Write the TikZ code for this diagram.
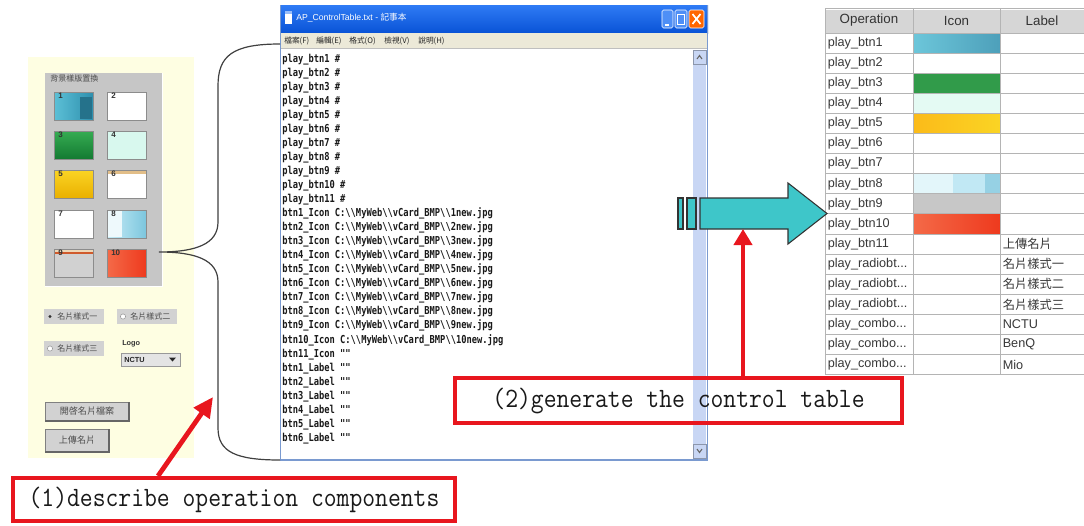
\documentclass[tikz,border=0pt]{standalone}
\usepackage{fontspec}
\setmainfont{Liberation Sans}
\newfontfamily\cjk{Noto Sans CJK TC}
\newfontfamily\npfont{DejaVu Sans Mono}
\usetikzlibrary{arrows.meta}
\definecolor{panelY}{HTML}{FEFEE2}
\definecolor{grpG}{HTML}{C6C6C6}
\definecolor{btnG}{HTML}{D2D2D2}
\definecolor{tealA}{HTML}{3EC6C9}
\definecolor{redC}{HTML}{E8161E}
\definecolor{tbA}{HTML}{2F7BF5}
\definecolor{tbB}{HTML}{0953D6}
\definecolor{menuC}{HTML}{ECE9D8}
\definecolor{scrC}{HTML}{C8D6F4}
\definecolor{frameB}{HTML}{7A9AD0}
\definecolor{gridC}{HTML}{B4B4B4}
\definecolor{hdrC}{HTML}{D6D6D6}
\definecolor{cA}{HTML}{5CC0D6}
\definecolor{cB}{HTML}{2E8FAE}
\definecolor{gA}{HTML}{36AC52}
\definecolor{gB}{HTML}{137A32}
\definecolor{mintC}{HTML}{D8F8EE}
\definecolor{yA}{HTML}{FAD424}
\definecolor{yB}{HTML}{EAB000}
\definecolor{tanC}{HTML}{E2BE88}
\definecolor{lbA}{HTML}{C8ECF6}
\definecolor{lbB}{HTML}{7CC6DE}
\definecolor{rA}{HTML}{F46A48}
\definecolor{rB}{HTML}{EE3A1E}
\definecolor{oraC}{HTML}{D05A2C}
\newcommand\npbs{\textbackslash}
\newcommand\tdots{...}
\begin{document}
\begin{tikzpicture}[x=0.75pt,y=-0.75pt,
  icon/.style={draw=black!45,line width=0.5pt},
  icnum/.style={anchor=west,inner sep=0,font=\fontsize{6}{6}\selectfont\bfseries,text=black!80},
  cjksmall/.style={inner sep=0,font=\cjk\fontsize{6}{6}\selectfont,text=black!70},
  wbtn/.style={draw=black!50,fill=btnG,line width=0.5pt},
  nptxt/.style={anchor=base west,inner sep=0,text=black!90,font=\npfont\bfseries\fontsize{8.2}{8}\selectfont},
  optxt/.style={anchor=west,inner sep=0,text=black!78,font=\fontsize{9.5}{10}\selectfont},
  lbtxt/.style={anchor=west,inner sep=0,text=black!78,font=\cjk\fontsize{9.2}{10}\selectfont},
  hdtxt/.style={inner sep=0,text=black!80,font=\fontsize{10}{10}\selectfont},
  redbox/.style={draw=redC,line width=3.2pt},
  redarrow/.style={draw=redC,line width=3.6pt},
  bigtxt/.style={inner sep=0,text=black!90,font=\ttfamily\fontsize{21}{21}\selectfont}
]
\useasboundingbox (0,0) rectangle (1084,525);
\fill[white] (0,0) rectangle (1084,525);

% ---------------- left panel ----------------
\fill[panelY] (28,57) rectangle (194,458);
\fill[grpG] (45,73) rectangle (162,286);
\draw[white,line width=0.6pt] (45,286) -- (162,286) -- (162,73);
\node[cjksmall,anchor=west] (grptitle) at (50,78) {背景樣版置換};

\tikzset{
 ic1/.style={left color=cA,right color=cB},
 ic2/.style={fill=white},
 ic3/.style={top color=gA,bottom color=gB},
 ic4/.style={fill=mintC},
 ic5/.style={top color=yA,bottom color=yB},
 ic6/.style={fill=white},
 ic7/.style={fill=white},
 ic8/.style={left color=lbA,right color=lbB},
 ic9/.style={fill=black!18},
 ic10/.style={left color=rA,right color=rB}}
\foreach \x/\y/\n in {54/92/1,107/92/2,54/131/3,107/131/4,54/170/5,107/170/6,54/210/7,107/210/8,54/249/9,107/249/10}{
  \draw[icon,ic\n] (\x,\y) rectangle ++(39,28);
}
\fill[cB!80!black] (80,97) rectangle (92,119);
\fill[tanC] (107.5,171) rectangle (145.5,174);
\fill[tanC!60] (54.5,250) rectangle (92.5,252);
\fill[oraC] (54.5,252) rectangle (92.5,254);
\fill[white!70!lbA] (107.5,211) rectangle (122,237);
\foreach \x/\y/\n in {54/92/1,107/92/2,54/131/3,107/131/4,54/170/5,107/170/6,54/210/7,107/210/8,54/249/9,107/249/10}{
  \node[icnum] at (\x+4,\y+4) {\n};
}

% radio buttons
\fill[btnG] (44,309) rectangle (104,324);
\fill[btnG] (117,309) rectangle (177,324);
\fill[btnG] (44,341) rectangle (104,356);
\fill[black!80] (50,316.5) circle (1.6);
\draw[black!40,fill=white] (123,316.5) circle (2.6);
\draw[black!40,fill=white] (50,348.5) circle (2.6);
\node[cjksmall,anchor=west] (r1) at (57,316.5) {名片樣式一};
\node[cjksmall,anchor=west] (r2) at (130,316.5) {名片樣式二};
\node[cjksmall,anchor=west] (r3) at (57,348.5) {名片樣式三};
\node[anchor=west,inner sep=0,font=\fontsize{5.5}{6}\selectfont\bfseries,text=black!80] (logo) at (122,344) {Logo};
\draw[black!40,fill=btnG!60!white] (121,353) rectangle (180,366);
\node[anchor=west,inner sep=0,font=\fontsize{5.5}{6}\selectfont\bfseries,text=black!85] (nctu) at (124,359.5) {NCTU};
\fill[black!85] (169,357.5) -- (176,357.5) -- (172.5,361.5) -- cycle;

% buttons
\draw[wbtn] (45,402) rectangle (129,421);
\draw[black!60,line width=0.8pt] (45,421) -- (129,421) -- (129,402);
\node[cjksmall,font=\cjk\fontsize{6.8}{7}\selectfont] (b1) at (87,411.5) {開啓名片檔案};
\draw[wbtn] (45,429) rectangle (109,452);
\draw[black!60,line width=0.8pt] (45,452) -- (109,452) -- (109,429);
\node[cjksmall,font=\cjk\fontsize{6.8}{7}\selectfont] (b2) at (77,440.5) {上傳名片};

% ---------------- notepad window ----------------
\shade[top color=tbA,bottom color=tbB] (280,5) rectangle (708,33);
\fill[white] (285,11) rectangle (292,24);
\fill[tbA!50] (285,11) rectangle (292,14);
\node[anchor=west,inner sep=0,text=white,font=\fontsize{6.5}{7}\selectfont] (title) at (296,18) {AP\_ControlTable.txt - {\cjk 記事本}};
\draw[white,fill=tbA!85!white,rounded corners=1.2pt,line width=0.4pt] (662,10) rectangle (673,28);
\fill[white] (664.5,23.5) rectangle (669,25.5);
\draw[white,fill=tbA!85!white,rounded corners=1.2pt,line width=0.4pt] (675,10) rectangle (687,28);
\draw[white,line width=0.6pt] (677.5,14) rectangle (684.5,24);
\draw[white,fill=orange!80!red,rounded corners=1.2pt,line width=0.4pt] (689,10) rectangle (704,28);
\draw[white,line width=1.3pt] (692.5,14) -- (700.5,24) (700.5,14) -- (692.5,24);
\fill[menuC] (281,33) rectangle (707,48);
\draw[black!25] (281,48) -- (707,48);
\foreach \mx/\mt in {284/檔案(F),316/編輯(E),349/格式(O),384/檢視(V),418/說明(H)}{
  \node[anchor=west,inner sep=0,text=black!85,font=\cjk\fontsize{5.8}{6}\selectfont] at (\mx,41) {\mt};
}
\fill[white] (281,48.5) rectangle (707,459.5);
\fill[scrC] (693,50) rectangle (706,458);
\draw[scrC!70!black,line width=0.4pt] (693,50) rectangle (706,64);
\draw[scrC!70!black,line width=0.4pt] (693,444) rectangle (706,458);
\draw[black!60,line width=0.8pt] (697,59) -- (699.5,55.5) -- (702,59);
\draw[black!60,line width=0.8pt] (697,449) -- (699.5,452.5) -- (702,449);
\draw[frameB,line width=0.9pt] (280.5,33) -- (280.5,460) -- (707.5,460) -- (707.5,33);
\draw[frameB,line width=0.9pt] (280.5,5) -- (280.5,33) (707.5,5) -- (707.5,33);

\foreach \t [count=\i from 0] in {1,2,3,4,5,6,7,8,9,10,11}{
  \node[nptxt] at (282,{62+\i*14.05}) {\scalebox{0.8}[1]{play\_btn\t{} \#}};
}
\foreach \t [count=\i from 11] in {1,2,3,4,5,6,7,8,9,10}{
  \node[nptxt] at (282,{62+\i*14.05}) {\scalebox{0.8}[1]{btn\t\_Icon C:\npbs\npbs{}MyWeb\npbs\npbs{}vCard\_BMP\npbs\npbs{}\t{}new.jpg}};
}
\node[nptxt] at (282,{62+21*14.05}) {\scalebox{0.8}[1]{btn11\_Icon ""}};
\foreach \t [count=\i from 22] in {1,2,3,4,5,6}{
  \node[nptxt] at (282,{62+\i*14.05}) {\scalebox{0.8}[1]{btn\t\_Label ""}};
}

% ---------------- brace ----------------
\coordinate (bt) at (280,44);
\coordinate (btip) at (159,252);
\coordinate (bb) at (280,460);
\draw[black!75,line width=0.9pt] (bt) .. controls (232,44) and (218,56) .. (218,86) -- (218,222)
  .. controls (218,244) and (196,252) .. (btip)
  .. controls (196,252) and (218,260) .. (218,282) -- (218,428)
  .. controls (218,452) and (236,460) .. (bb);

% ---------------- table ----------------
\fill[hdrC] (825,8) rectangle (1084,33);
\draw[white,line width=0.8pt] (826,9) -- (1084,9);
\node[hdtxt] (hOp) at (869,20.5) {Operation};
\node[hdtxt] (hIc) at (956.5,20.5) {Icon};
\node[hdtxt] (hLb) at (1042,20.5) {Label};
% icon cells
\shade[left color=cA!90!white,right color=cB!85!white] (913,{33+0*20.1}) rectangle (1000,{33+1*20.1});
\fill[gA!90!black] (913,{33+2*20.1}) rectangle (1000,{33+3*20.1});
\fill[mintC!70!white] (913,{33+3*20.1}) rectangle (1000,{33+4*20.1});
\shade[left color=yA!70!orange,right color=yA] (913,{33+4*20.1}) rectangle (1000,{33+5*20.1});
\fill[lbA!50!white] (913,{33+7*20.1}) rectangle (953,{33+8*20.1});
\fill[lbA!90!lbB] (953,{33+7*20.1}) rectangle (985,{33+8*20.1});
\fill[lbB!80!white] (985,{33+7*20.1}) rectangle (1000,{33+8*20.1});
\fill[black!22] (913,{33+8*20.1}) rectangle (1000,{33+9*20.1});
\shade[left color=rA,right color=rB] (913,{33+9*20.1}) rectangle (1000,{33+10*20.1});
% grid
\foreach \i in {0,...,17}{
  \draw[gridC,line width=0.7pt] (825,{33+\i*20.1}) -- (1084,{33+\i*20.1});
}
\draw[gridC,line width=0.7pt] (825,8) -- (1084,8);
\foreach \x in {825.5,913,1000}{
  \draw[gridC,line width=0.7pt] (\x,8) -- (\x,{33+17*20.1});
}
\foreach \t [count=\i] in {play\_btn1,play\_btn2,play\_btn3,play\_btn4,play\_btn5,play\_btn6,play\_btn7,play\_btn8,play\_btn9,play\_btn10,play\_btn11,play\_radiobt\tdots,play\_radiobt\tdots,play\_radiobt\tdots,play\_combo\tdots,play\_combo\tdots,play\_combo\tdots}{
  \node[optxt] at (827.5,{33+(\i-0.5)*20.1}) {\t};
}
\foreach \t [count=\i from 11] in {上傳名片,名片樣式一,名片樣式二,名片樣式三}{
  \node[lbtxt] at (1002.5,{33+(\i-0.5)*20.1}) {\t};
}
\foreach \t [count=\i from 15] in {NCTU,BenQ,Mio}{
  \node[optxt] at (1002.5,{33+(\i-0.5)*20.1}) {\t};
}

% ---------------- big arrow ----------------
\draw[fill=tealA,draw=black!80,line width=0.8pt] (678,198) rectangle (683,229);
\draw[fill=tealA,draw=black!80,line width=0.8pt] (687,198) rectangle (696,229);
\draw[fill=tealA,draw=black!80,line width=0.8pt] (700,198) -- (788,198) -- (788,183) -- (827,213.5)
  -- (788,244) -- (788,229) -- (700,229) -- cycle;
\coordinate (bigbottom) at (743,229);

% ---------------- red labels ----------------
\draw[redbox,fill=white] (13,478) rectangle (455,521);
\node[bigtxt] (lab1) at (234,500) {\scalebox{0.89}[1]{(1)describe operation components}};
\draw[redbox] (455,378) rectangle (902,423);
\node[bigtxt] (lab2) at (678.5,401) {\scalebox{0.89}[1]{(2)generate the control table}};
\coordinate (a1s) at (158,476);
\coordinate (a1e) at (213,397);
\coordinate (a2s) at (743,376);
\draw[redarrow,-{Triangle[length=15pt,width=14pt]}] (a1s) -- (a1e);
\draw[redarrow,-{Triangle[length=12pt,width=13.5pt]}] (a2s) -- (bigbottom);
\end{tikzpicture}
\end{document}
